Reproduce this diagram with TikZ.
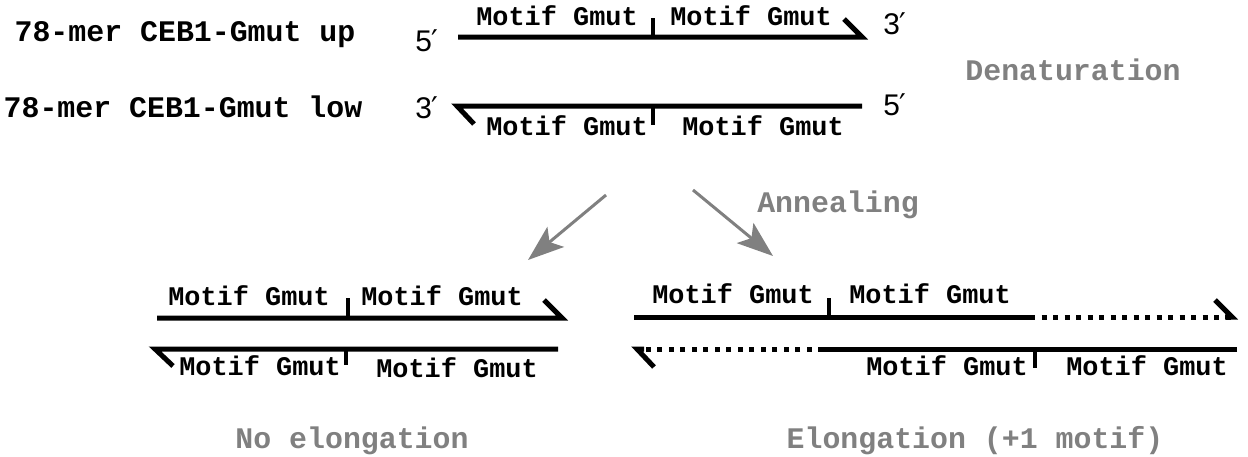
\documentclass[tikz,border=0pt]{standalone}
\usepackage{fontspec}
\setmainfont{Liberation Sans}
\setmonofont{Liberation Mono}
\newfontfamily\primefont{DejaVu Sans}
\usepackage{tikz}
\usetikzlibrary{arrows.meta}
\definecolor{labelgray}{RGB}{128,128,128}
\newcommand{\pr}{{\primefont ′}}

\tikzset{
  strand/.style={line width=5bp,line join=miter,line cap=butt},
  newdna/.style={line width=5bp,line cap=butt,dash pattern=on 5bp off 6.5bp},
  nick/.style={line width=4bp},
  motif/.style={inner sep=0pt,anchor=base,font=\ttfamily\bfseries\fontsize{27}{32}\selectfont},
  oligo/.style={inner sep=0pt,anchor=base,font=\ttfamily\bfseries\fontsize{30}{36}\selectfont},
  prime/.style={inner sep=0pt,anchor=base,font=\rmfamily\fontsize{30}{36}\selectfont},
  stage/.style={inner sep=0pt,anchor=base,text=labelgray,font=\ttfamily\bfseries\fontsize{30}{36}\selectfont},
  flow/.style={draw=labelgray,line width=3bp,-{Stealth[length=36bp,width=26bp,inset=8bp,fill=labelgray]}}
}

\begin{document}
\begin{tikzpicture}
\useasboundingbox (0bp,0bp) rectangle (1248bp,-457bp);

% single strands
\node (upname) at (185bp,-41bp)[oligo] {78-mer CEB1-Gmut up};
\node (lowname) at (183bp,-117bp)[oligo] {78-mer CEB1-Gmut low};
\node (up5) at (427bp,-51bp)[prime] {5\pr};
\node (up3) at (895bp,-34bp)[prime] {3\pr};
\node (low3) at (427bp,-118bp)[prime] {3\pr};
\node (low5) at (895bp,-115bp)[prime] {5\pr};
\coordinate (upA) at (458bp,-37bp);
\coordinate (upB) at (862bp,-37bp);
\coordinate (lowA) at (862bp,-106bp);
\coordinate (lowB) at (457bp,-106bp);
\draw [strand] (upA) -- (upB) -- ++(-18bp,18bp);
\draw [nick] (653bp,-37bp) -- ++(0,19bp);
\draw [strand] (lowA) -- (lowB) -- ++(17bp,-18bp);
\draw [nick] (653bp,-106bp) -- ++(0,-19bp);
\node (m1) at (557bp,-25bp)[motif] {Motif Gmut};
\node (m2) at (751bp,-25bp)[motif] {Motif Gmut};
\node (m3) at (567bp,-135bp)[motif] {Motif Gmut};
\node (m4) at (763bp,-135bp)[motif] {Motif Gmut};
\node (denat) at (1073bp,-80bp)[stage] {Denaturation};

% annealing
\node (anneal) at (838bp,-212bp)[stage] {Annealing};
\coordinate (fromL) at (606bp,-195bp);
\coordinate (toL) at (528bp,-260bp);
\coordinate (fromR) at (693bp,-190bp);
\coordinate (toR) at (773bp,-256bp);
\draw [flow] (fromL) -- (toL);
\draw [flow] (fromR) -- (toR);

% no elongation
\coordinate (nA) at (157bp,-318bp);
\coordinate (nB) at (562bp,-318bp);
\coordinate (nC) at (558bp,-349bp);
\coordinate (nD) at (155bp,-349bp);
\draw [strand] (nA) -- (nB) -- ++(-18bp,18bp);
\draw [nick] (348bp,-318bp) -- ++(0,20bp);
\draw [strand] (nC) -- (nD) -- ++(18bp,-17bp);
\draw [nick] (346bp,-349bp) -- ++(0,-16bp);
\node (n1) at (249bp,-305bp)[motif] {Motif Gmut};
\node (n2) at (442bp,-305bp)[motif] {Motif Gmut};
\node (n3) at (260bp,-375bp)[motif] {Motif Gmut};
\node (n4) at (457bp,-377bp)[motif] {Motif Gmut};
\node (noelong) at (352bp,-448bp)[stage] {No elongation};

% elongation
\coordinate (eA) at (634bp,-317bp);
\coordinate (eB) at (1030bp,-317bp);
\coordinate (eC) at (1232bp,-317bp);
\coordinate (eD) at (1237bp,-349bp);
\coordinate (eE) at (823bp,-349bp);
\coordinate (eF) at (637bp,-349bp);
\draw [strand] (eA) -- (eB);
\draw [newdna] (eB) -- (eC);
\draw [strand] ([xshift=-7bp]eC) -- (eC) -- ++(-17bp,17bp);
\draw [nick] (829bp,-317bp) -- ++(0,19bp);
\draw [strand] (eD) -- (eE);
\draw [newdna] (eE) -- (eF);
\draw [strand] ([xshift=7bp]eF) -- (eF) -- ++(17bp,-18bp);
\draw [nick] (1035bp,-349bp) -- ++(0,-19bp);
\node (e1) at (733bp,-303bp)[motif] {Motif Gmut};
\node (e2) at (930bp,-303bp)[motif] {Motif Gmut};
\node (e3) at (947bp,-375bp)[motif] {Motif Gmut};
\node (e4) at (1147bp,-375bp)[motif] {Motif Gmut};
\node (elong) at (975bp,-448bp)[stage] {Elongation (+1 motif)};
\end{tikzpicture}
\end{document}
